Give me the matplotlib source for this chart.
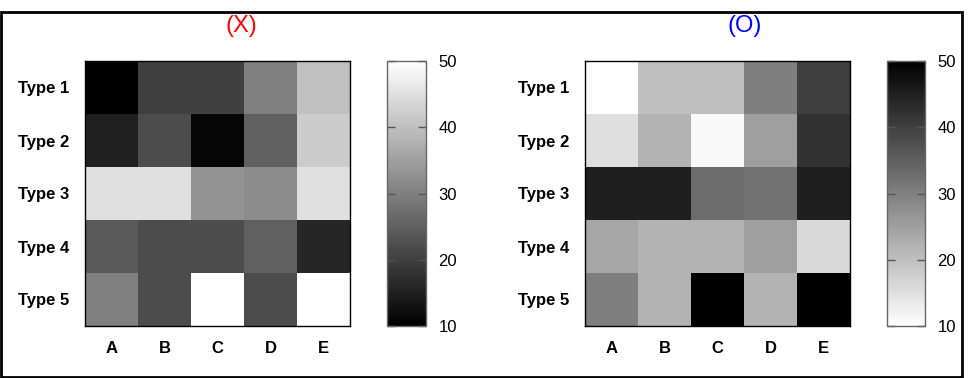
import matplotlib
matplotlib.use("Agg")
import matplotlib.pyplot as plt
import numpy as np
from matplotlib.patches import Rectangle

plt.rcParams['font.family'] = ['Liberation Sans', 'DejaVu Sans']

columns = ["A", "B", "C", "D", "E"]
rows = ["Type 1", "Type 2", "Type 3", "Type 4", "Type 5"]
values = [
    [10, 20, 20, 30, 40],
    [15, 22, 11, 25, 42],
    [45, 45, 33, 32, 45],
    [24, 22, 22, 25, 16],
    [30, 22, 50, 22, 50],
]
cbar_ticks = [10, 20, 30, 40, 50]
titles = ["(X)", "(O)"]
title_colors = ["#ff0000", "#0000ff"]
cmaps = ["gray", "gray_r"]

W, H = 978, 378
fig = plt.figure(figsize=(W / 100, H / 100), dpi=100)

def px_rect(x0, y0, x1, y1):
    return [x0 / W, (H - y1) / H, (x1 - x0) / W, (y1 - y0) / H]

data = np.array(values, dtype=float)
layouts = [
    dict(ax=(85, 61, 350, 326), cb=(387, 61, 426, 326), title_x=241),
    dict(ax=(585, 61, 850, 326), cb=(887, 61, 925, 326), title_x=745),
]

for i, lay in enumerate(layouts):
    ax = fig.add_axes(px_rect(*lay["ax"]))
    im = ax.imshow(data, cmap=cmaps[i], vmin=10, vmax=50, aspect='auto',
                   interpolation='nearest')
    ax.set_xticks(range(len(columns)))
    ax.set_xticklabels(columns, fontsize=12, fontweight='bold')
    ax.set_yticks(range(len(rows)))
    ax.set_yticklabels(rows, fontsize=12, fontweight='bold')
    ax.tick_params(length=0, pad=11)
    for s in ax.spines.values():
        s.set_linewidth(1.0)
        s.set_color('black')

    cax = fig.add_axes(px_rect(*lay["cb"]))
    cb = fig.colorbar(im, cax=cax, ticks=cbar_ticks)
    cb.outline.set_edgecolor('#666666')
    cb.outline.set_linewidth(1.0)
    cax.tick_params(direction='in', length=6, width=1, color='#555555',
                    left=True, right=True, labelleft=False, labelright=True,
                    labelsize=12, pad=9)
    cax.set_yticklabels([str(t) for t in cbar_ticks])

    fig.text(lay["title_x"] / W, 1 - 26 / H, titles[i], color=title_colors[i],
             fontsize=17, ha='center', va='center')

fig.patches.append(Rectangle((1 / W, 1 / H), 961 / W, 365 / H,
                             transform=fig.transFigure, fill=False,
                             edgecolor='black', linewidth=2))

fig.savefig("out.png", dpi=100)
